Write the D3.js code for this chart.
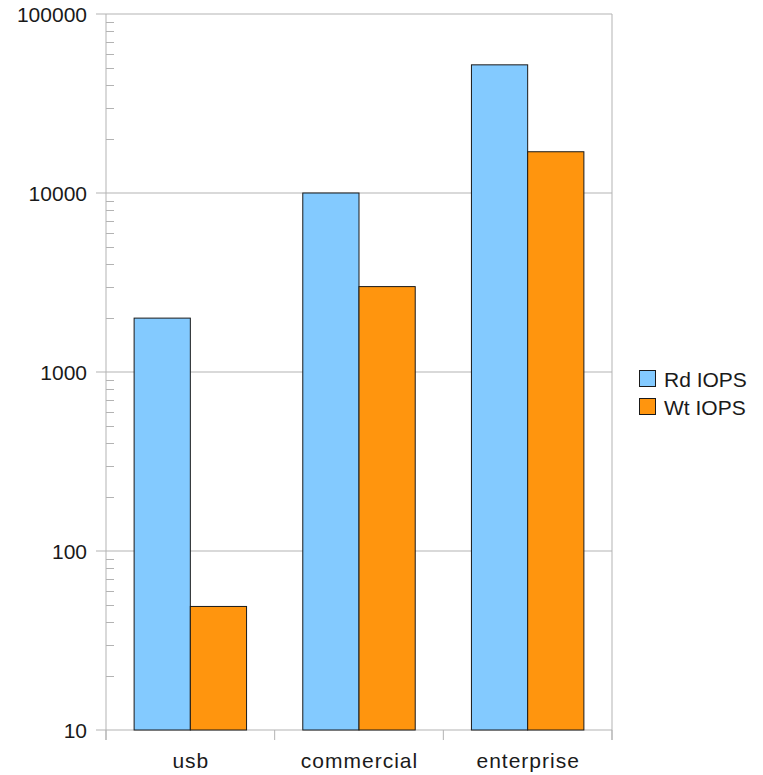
<!DOCTYPE html>
<html>
<head>
<meta charset="utf-8">
<script src="https://cdn.jsdelivr.net/npm/d3@7/dist/d3.min.js"></script>
<style>
  body { margin: 0; background: #fff; }
  text { font-family: "Liberation Sans", Arial, sans-serif; fill: #1a1a1a; }
</style>
</head>
<body>
<svg id="chart" width="763" height="775"></svg>
<script>
// IOPS by device class
const categories = ["usb", "commercial", "enterprise"];
const seriesNames = ["Rd IOPS", "Wt IOPS"];
const rdIops = [2000, 10000, 52000];
const wtIops = [49, 3000, 17000];
const yTicks = [10, 100, 1000, 10000, 100000];
const seriesColors = ["#83caff", "#ff950e"];

const svg = d3.select("#chart");
const plot = { left: 106, right: 612, top: 14, bottom: 730 };
const grid = "#b3b3b3";

const x = d3.scaleBand().domain(categories).range([plot.left, plot.right]).paddingInner(0).paddingOuter(0);
const inner = d3.scaleBand().domain(seriesNames).range([0, x.bandwidth()]).paddingInner(0).paddingOuter(0.5);
const y = d3.scaleLog().domain([10, 100000]).range([plot.bottom, plot.top]);

// horizontal gridlines at each decade
svg.append("g").selectAll("line").data(yTicks).join("line")
  .attr("x1", plot.left - 10).attr("x2", plot.right)
  .attr("y1", d => y(d)).attr("y2", d => y(d))
  .attr("stroke", grid).attr("stroke-width", 1);

// minor ticks (2..9 within each decade)
const minor = [];
for (let i = 0; i < yTicks.length - 1; i++) {
  for (let k = 2; k <= 9; k++) minor.push(yTicks[i] * k);
}
svg.append("g").selectAll("line").data(minor).join("line")
  .attr("x1", plot.left).attr("x2", plot.left + 8)
  .attr("y1", d => Math.round(y(d)) + 0.5).attr("y2", d => Math.round(y(d)) + 0.5)
  .attr("stroke", grid).attr("stroke-width", 1);

// vertical frame lines
svg.append("line").attr("x1", plot.left).attr("x2", plot.left)
  .attr("y1", plot.top).attr("y2", plot.bottom + 10).attr("stroke", grid);
svg.append("line").attr("x1", plot.right).attr("x2", plot.right)
  .attr("y1", plot.top).attr("y2", plot.bottom + 10).attr("stroke", grid);

// category boundary ticks
const bounds = categories.map(c => x(c)).concat([plot.right]);
svg.append("g").selectAll("line").data(bounds).join("line")
  .attr("x1", d => d).attr("x2", d => d)
  .attr("y1", plot.bottom).attr("y2", plot.bottom + 10)
  .attr("stroke", grid);

// bars
const rows = categories.map((c, i) => ({ c, vals: [rdIops[i], wtIops[i]] }));
const g = svg.append("g");
rows.forEach(r => {
  r.vals.forEach((v, j) => {
    g.append("rect")
      .attr("x", x(r.c) + inner(seriesNames[j]))
      .attr("y", y(v))
      .attr("width", inner.bandwidth())
      .attr("height", y(10) - y(v))
      .attr("fill", seriesColors[j])
      .attr("stroke", "#1a1a1a").attr("stroke-width", 1);
  });
});

// y tick labels
svg.append("g").selectAll("text").data(yTicks).join("text")
  .attr("x", 87).attr("y", d => y(d) + 8)
  .attr("text-anchor", "end").attr("font-size", 21)
  .text(d => d3.format("d")(d));

// category labels
svg.append("g").selectAll("text").data(categories).join("text")
  .attr("x", d => x(d) + x.bandwidth() / 2 + 0.5).attr("y", 768)
  .attr("text-anchor", "middle").attr("font-size", 21)
  .attr("letter-spacing", 1)
  .text(d => d);

// legend
const leg = svg.append("g");
seriesNames.forEach((s, i) => {
  const ly = 370 + i * 28;
  leg.append("rect").attr("x", 639.5).attr("y", ly + 0.5).attr("width", 16).attr("height", 16)
    .attr("fill", seriesColors[i]).attr("stroke", "#1a1a1a");
  leg.append("text").attr("x", 664).attr("y", ly + 17)
    .attr("font-size", 21).text(s);
});
</script>
</body>
</html>
